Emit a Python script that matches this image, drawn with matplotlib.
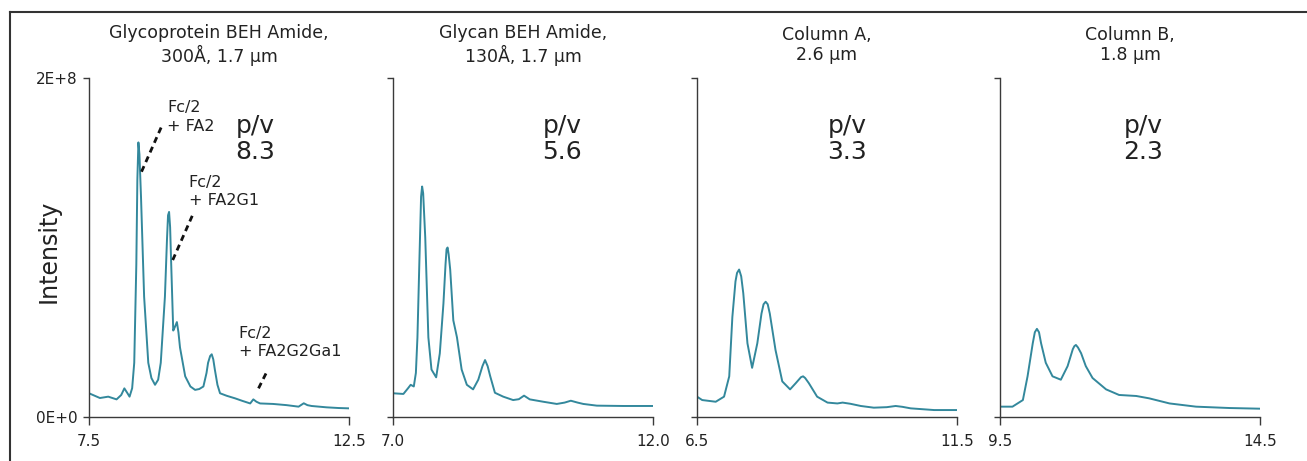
import numpy as np
import matplotlib
matplotlib.use("Agg")
import matplotlib.pyplot as plt
from matplotlib.lines import Line2D

plt.rcParams['font.family'] = ['DejaVu Sans']

titles = ["Glycoprotein BEH Amide,\n300Å, 1.7 µm",
          "Glycan BEH Amide,\n130Å, 1.7 µm",
          "Column A,\n2.6 µm",
          "Column B,\n1.8 µm"]
pv_values = ["8.3", "5.6", "3.3", "2.3"]
xlims = [(7.5, 12.5), (7.0, 12.0), (6.5, 11.5), (9.5, 14.5)]
xtick_labels = [["7.5", "12.5"], ["7.0", "12.0"], ["6.5", "11.5"], ["9.5", "14.5"]]
ytick_values = [0, 2e8]
ytick_labels = ["0E+0", "2E+8"]

# retention time (min) and intensity (units of 1E+8)
t1 = [7.50, 7.71, 7.87, 8.03, 8.12, 8.18, 8.24, 8.28, 8.33, 8.37, 8.41, 8.43, 8.45, 8.47, 8.50,
      8.56, 8.64, 8.70, 8.77, 8.83, 8.88, 8.96, 9.00, 9.02, 9.04, 9.06, 9.08, 9.12, 9.15, 9.19,
      9.22, 9.25, 9.35, 9.45, 9.54, 9.62, 9.70, 9.76, 9.79, 9.83, 9.86, 9.89, 9.92, 9.97, 10.02,
      10.15, 10.31, 10.45, 10.60, 10.66, 10.72, 10.79, 11.04, 11.30, 11.53, 11.63, 11.70, 11.78,
      12.07, 12.30, 12.50]
y1 = [0.14, 0.112, 0.12, 0.104, 0.13, 0.169, 0.14, 0.12, 0.17, 0.32, 0.90, 1.40, 1.62, 1.55, 1.30,
      0.71, 0.32, 0.23, 0.19, 0.22, 0.32, 0.71, 1.05, 1.19, 1.21, 1.12, 0.91, 0.51, 0.53, 0.56,
      0.50, 0.41, 0.24, 0.18, 0.16, 0.165, 0.18, 0.26, 0.32, 0.36, 0.37, 0.34, 0.28, 0.19, 0.14,
      0.125, 0.11, 0.095, 0.08, 0.104, 0.09, 0.08, 0.077, 0.07, 0.061, 0.081, 0.07, 0.065,
      0.057, 0.053, 0.051]

t2 = [7.00, 7.20, 7.29, 7.34, 7.40, 7.44, 7.47, 7.51, 7.54, 7.56, 7.58, 7.62, 7.68, 7.74, 7.83,
      7.90, 7.97, 8.01, 8.03, 8.05, 8.07, 8.10, 8.16, 8.23, 8.32, 8.42, 8.54, 8.64, 8.72, 8.77,
      8.82, 8.87, 8.96, 9.12, 9.31, 9.42, 9.52, 9.63, 9.89, 10.15, 10.30, 10.42, 10.55,
      10.66, 10.92, 11.43, 12.00]
y2 = [0.14, 0.136, 0.17, 0.19, 0.18, 0.26, 0.47, 0.95, 1.30, 1.36, 1.32, 1.06, 0.47, 0.28, 0.234,
      0.375, 0.67, 0.90, 0.99, 1.00, 0.96, 0.87, 0.57, 0.47, 0.28, 0.19, 0.163, 0.22, 0.30, 0.336,
      0.30, 0.24, 0.143, 0.12, 0.10, 0.105, 0.126, 0.104, 0.09, 0.077, 0.085, 0.096, 0.085,
      0.077, 0.067, 0.065, 0.065]

t3 = [6.50, 6.60, 6.86, 7.02, 7.12, 7.18, 7.24, 7.27, 7.31, 7.35, 7.39, 7.47, 7.56, 7.66, 7.74,
      7.78, 7.82, 7.86, 7.90, 8.01, 8.14, 8.29, 8.40, 8.50, 8.54, 8.58, 8.65, 8.81, 9.01, 9.20,
      9.30, 9.45, 9.65, 9.90, 10.15, 10.32, 10.45, 10.61, 11.06, 11.50]
y3 = [0.12, 0.10, 0.09, 0.12, 0.24, 0.59, 0.80, 0.85, 0.87, 0.83, 0.73, 0.435, 0.29, 0.435, 0.61,
      0.665, 0.68, 0.665, 0.61, 0.395, 0.21, 0.163, 0.20, 0.235, 0.24, 0.23, 0.20, 0.12, 0.085, 0.08,
      0.085, 0.078, 0.065, 0.055, 0.058, 0.065, 0.06, 0.051, 0.041, 0.041]

t4 = [9.50, 9.74, 9.94, 10.03, 10.13, 10.17, 10.21, 10.25, 10.29, 10.38, 10.51, 10.67, 10.80,
      10.90, 10.93, 10.96, 11.00, 11.06, 11.15, 11.28, 11.54, 11.79, 12.12, 12.37, 12.76, 13.27,
      13.91, 14.50]
y4 = [0.061, 0.061, 0.10, 0.24, 0.435, 0.50, 0.52, 0.50, 0.435, 0.32, 0.24, 0.22, 0.30,
      0.40, 0.418, 0.425, 0.41, 0.376, 0.30, 0.23, 0.163, 0.13, 0.124, 0.11, 0.08, 0.061,
      0.053, 0.049]

series = [(t1, y1), (t2, y2), (t3, y3), (t4, y4)]

W, H = 1307, 461
fig = plt.figure(figsize=(W / 100, H / 100), dpi=100)

lefts = [89, 393, 697, 1000]
ax_w, ax_b, ax_t = 260, 417, 78
pv_x = [0.64, 0.65, 0.576, 0.55]
line_color = '#33889c'
spine_color = '#3a3a3a'

axes = []
for i in range(4):
    ax = fig.add_axes([lefts[i] / W, (H - ax_b) / H, ax_w / W, (ax_b - ax_t) / H])
    axes.append(ax)
    t, y = series[i]
    ax.plot(t, np.array(y) * 1e8, color=line_color, lw=1.4, solid_joinstyle='round')
    ax.set_xlim(*xlims[i])
    ax.set_ylim(0, 2e8)
    ax.set_xticks(list(xlims[i]))
    ax.set_xticklabels(xtick_labels[i], fontsize=11, color='#222222')
    ax.set_yticks(ytick_values)
    if i == 0:
        ax.set_yticklabels(ytick_labels, fontsize=11, color='#222222')
        ax.set_ylabel("Intensity", fontsize=17, color='#222222')
        ax.yaxis.set_label_coords(-0.108, 0.49)
    else:
        ax.set_yticklabels([])
    for s in ['top', 'right']:
        ax.spines[s].set_visible(False)
    for s in ['left', 'bottom']:
        ax.spines[s].set_color(spine_color)
        ax.spines[s].set_linewidth(1.0)
    ax.tick_params(axis='x', direction='out', length=6, width=1.0, color=spine_color, pad=6)
    ax.tick_params(axis='y', direction='out', length=4, width=1.0, color=spine_color, pad=4)
    ax.text(0.5, 1.0 + (78 - 45) / 339, titles[i], transform=ax.transAxes, ha='center',
            va='center', fontsize=12.5, color='#222222', linespacing=1.15)
    ax.text(pv_x[i], 0.82, "p/v\n" + pv_values[i], transform=ax.transAxes, ha='center',
            va='center', fontsize=18, color='#222222', linespacing=1.1)

# annotations in first panel
ax = axes[0]
ann_text = ["Fc/2\n+ FA2", "Fc/2\n+ FA2G1", "Fc/2\n+ FA2G2Ga1"]
ann_text_xy = [(9.0, 1.77), (9.42, 1.33), (10.38, 0.44)]
ann_line = [((8.51, 1.447), (8.89, 1.71)), ((9.11, 0.926), (9.49, 1.19)),
            ((10.76, 0.169), (10.92, 0.267))]
for txt, (tx, ty), ((x0, yy0), (x1, yy1)) in zip(ann_text, ann_text_xy, ann_line):
    ax.text(tx, ty * 1e8, txt, ha='left', va='center', fontsize=11.5, color='#222222',
            linespacing=1.3)
    ax.plot([x0, x1], [yy0 * 1e8, yy1 * 1e8], color='#111111', lw=2.0,
            linestyle=(0, (2.2, 1.6)), solid_capstyle='butt')

# outer frame (top and left edges)
fig.add_artist(Line2D([9.5 / W, 1.0], [1 - 12 / H, 1 - 12 / H], color='#333333', lw=1.5,
                      transform=fig.transFigure))
fig.add_artist(Line2D([9.5 / W, 9.5 / W], [0, 1 - 12 / H], color='#333333', lw=1.5,
                      transform=fig.transFigure))

fig.savefig("out.png", dpi=100)
